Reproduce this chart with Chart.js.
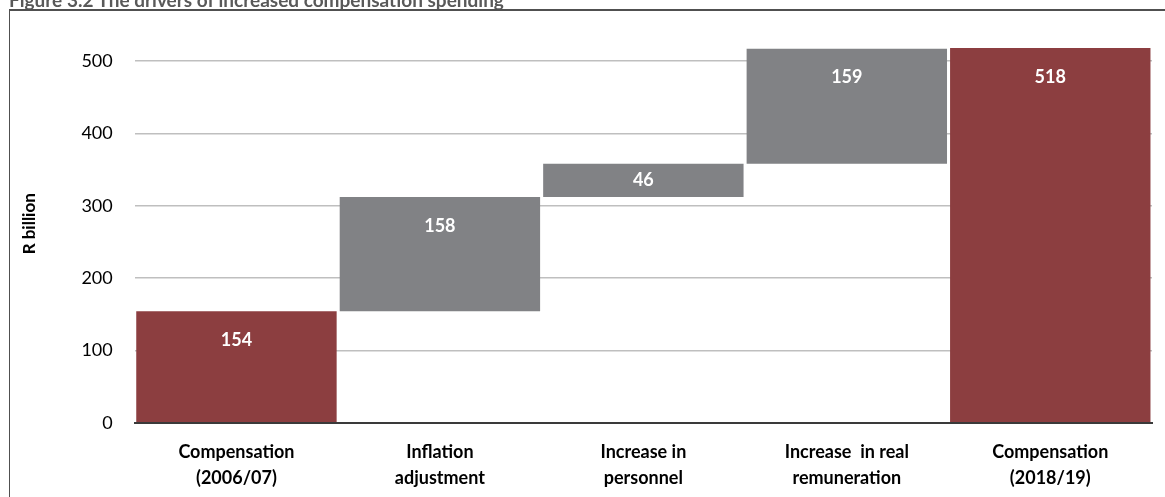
<!DOCTYPE html>
<html>
<head>
<meta charset="utf-8">
<script src="https://cdn.jsdelivr.net/npm/chart.js@4"></script>
<style>
  html, body { margin: 0; padding: 0; background: #fff; overflow: hidden; }
  #wrap { position: relative; width: 1165px; height: 497px; overflow: hidden; }
  #title { position: absolute; left: 9px; top: -12px; font: bold 19px Lato, sans-serif; color: #595959; white-space: nowrap; z-index: 2; }
  #lineTop { position: absolute; left: 9px; top: 9px; width: 1156px; height: 2px; background: #505050; z-index: 2; }
  #lineLeft { position: absolute; left: 9px; top: 9px; width: 1px; height: 488px; background: #505050; z-index: 2; }
  #box { position: absolute; left: 0; top: -8px; width: 1165px; height: 515px; }
</style>
</head>
<body>
<div id="wrap">
  <div id="box"><canvas id="c"></canvas></div>
  <div id="title">Figure 3.2 The drivers of increased compensation spending</div>
  <div id="lineTop"></div>
  <div id="lineLeft"></div>
</div>
<script>
// Category labels (two lines each)
const categories = [
  ["Compensation", "(2006/07)"],
  ["Inflation", "adjustment"],
  ["Increase in", "personnel"],
  ["Increase  in real", "remuneration"],
  ["Compensation", "(2018/19)"]
];
// Opening level, the three drivers, and the closing level (R billion)
const startValue = 154;
const increments = [158, 46, 159];
const endValue = 518;
const yTicks = [0, 100, 200, 300, 400, 500];

const RED = "#8c3e40";
const GREY = "#818285";
const FONT = "Lato, 'Open Sans', sans-serif";

// Build floating bars: totals from zero, drivers stacked on the running sum
const ranges = [[0, startValue]];
const labelsText = [startValue];
let running = startValue;
for (const inc of increments) {
  ranges.push([running, running + inc]);
  labelsText.push(inc);
  running += inc;
}
ranges.push([0, endValue]);
labelsText.push(endValue);
const colors = ranges.map((r, i) => (i === 0 || i === ranges.length - 1) ? RED : GREY);

// Value labels inside each bar near its top
const valueLabels = {
  id: "valueLabels",
  afterDatasetsDraw(chart) {
    const ctx = chart.ctx;
    const meta = chart.getDatasetMeta(0);
    ctx.save();
    ctx.font = "bold 18px " + FONT;
    ctx.fillStyle = "#ffffff";
    ctx.textAlign = "center";
    ctx.textBaseline = "middle";
    meta.data.forEach((bar, i) => {
      const top = Math.min(bar.y, bar.base);
      const bottom = Math.max(bar.y, bar.base);
      const y = Math.min(top + 29, (top + bottom) / 2);
      ctx.fillText(String(labelsText[i]), bar.x, y);
    });
    ctx.restore();
  }
};

new Chart(document.getElementById("c"), {
  type: "bar",
  data: {
    labels: categories,
    datasets: [{
      data: ranges,
      backgroundColor: colors,
      borderWidth: 0,
      barPercentage: 0.985,
      categoryPercentage: 1.0
    }]
  },
  options: {
    responsive: true,
    maintainAspectRatio: false,
    animation: false,
    layout: { padding: { left: 19, right: 13, top: 17, bottom: 8 } },
    plugins: { legend: { display: false }, tooltip: { enabled: false } },
    scales: {
      x: {
        grid: { display: false },
        border: { display: true, color: "#3a3a3a", width: 2 },
        ticks: {
          color: "#000",
          font: { family: FONT, size: 18, weight: "bold", lineHeight: 1.45 },
          padding: 8,
          maxRotation: 0,
          autoSkip: false
        }
      },
      y: {
        min: 0,
        max: 550,
        afterBuildTicks(axis) { axis.ticks = yTicks.map(v => ({ value: v })); },
        grid: { color: "#bfbfbf", lineWidth: 1.5, drawTicks: false },
        border: { display: false },
        ticks: {
          color: "#000",
          font: { family: FONT, size: 18 },
          padding: 22
        },
        title: {
          display: true,
          text: "R billion",
          color: "#000",
          font: { family: FONT, size: 17, weight: "bold" },
          padding: { top: 0, bottom: 20 }
        }
      }
    }
  },
  plugins: [valueLabels]
});
</script>
</body>
</html>
